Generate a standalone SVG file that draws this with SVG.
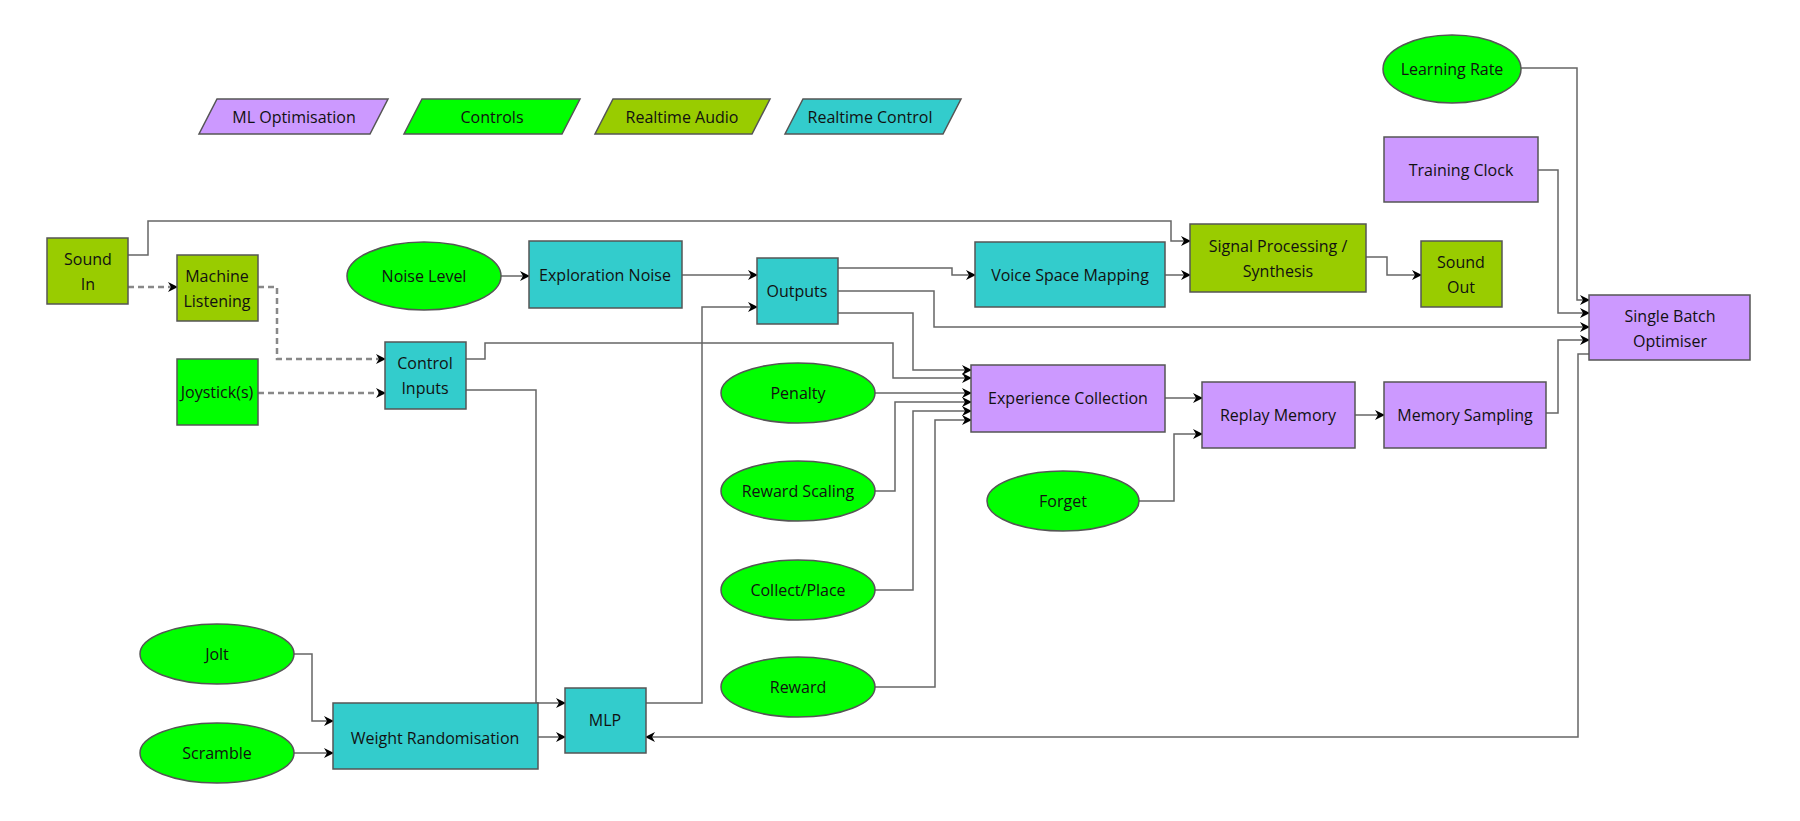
<svg xmlns="http://www.w3.org/2000/svg" width="1800" height="821" viewBox="0 0 1800 821">
<style>
text{font-family:"Open Sans","Noto Sans",sans-serif;font-size:16px;fill:#111;text-anchor:middle;dominant-baseline:central}
.p{fill:#cc99ff;stroke:#555;stroke-width:1.5}
.g{fill:#00ff00;stroke:#555;stroke-width:1.5}
.o{fill:#99cc00;stroke:#555;stroke-width:1.5}
.t{fill:#33cccc;stroke:#555;stroke-width:1.5}
.c{fill:none;stroke:#666;stroke-width:1.5;marker-end:url(#a)}
.d{stroke-dasharray:6,4;stroke:#888;stroke-width:2.5}
</style>
<defs><marker id="a" markerWidth="10" markerHeight="10" refX="9" refY="5" orient="auto" markerUnits="userSpaceOnUse"><path d="M0,0 L10,5 L0,10 L3,5 Z" fill="#000"/></marker></defs>
<rect width="1800" height="821" fill="#fff"/>
<g id="legend">
<g id="lg-ml"><polygon class="p" points="217,99 388,99 370,134 199,134"/><text x="294" y="117">ML Optimisation</text></g>
<g id="lg-ctrl"><polygon class="g" points="422,99 580,99 562,134 404,134"/><text x="492" y="117">Controls</text></g>
<g id="lg-audio"><polygon class="o" points="613,99 770,99 752,134 595,134"/><text x="682" y="117">Realtime Audio</text></g>
<g id="lg-rc"><polygon class="t" points="803,99 961,99 943,134 785,134"/><text x="870" y="117">Realtime Control</text></g>
</g>
<g id="connectors">
<path class="c" d="M128,255 H148 V221 H1171 V241 H1190"/>
<path class="c d" d="M128,287 H177"/>
<path class="c d" d="M258,287 H277 V359 H385"/>
<path class="c d" d="M258,393 H385"/>
<path class="c" d="M501,276 H529"/>
<path class="c" d="M682,275 H757"/>
<path class="c" d="M838,268 H952 V275 H975"/>
<path class="c" d="M1165,275 H1190"/>
<path class="c" d="M1366,257 H1387 V275 H1421"/>
<path class="c" d="M838,291 H934 V327 H1589"/>
<path class="c" d="M838,313 H913 V370 H971"/>
<path class="c" d="M465,359 H485 V343 H893 V378 H971"/>
<path class="c" d="M875,393 H971"/>
<path class="c" d="M875,491 H895 V402 H971"/>
<path class="c" d="M875,590 H913 V411 H971"/>
<path class="c" d="M875,687 H935 V420 H971"/>
<path class="c" d="M1165,398 H1202"/>
<path class="c" d="M1139,501 H1174 V434 H1202"/>
<path class="c" d="M1355,415 H1384"/>
<path class="c" d="M1546,413 H1558 V340 H1589"/>
<path class="c" d="M1521,68 H1577 V300 H1589"/>
<path class="c" d="M1538,170 H1558 V313 H1589"/>
<path class="c" d="M1589,354 H1578 V737 H646"/>
<path class="c" d="M466,390 H536 V703 H565"/>
<path class="c" d="M646,703 H702 V307 H757"/>
<path class="c" d="M538,737 H565"/>
<path class="c" d="M294,654 H312 V721 H333"/>
<path class="c" d="M294,753 H333"/>
</g>
<g id="sound-in"><rect class="o" x="47" y="238" width="81" height="66"/><text x="88" y="259">Sound</text><text x="88" y="284">In</text></g>
<g id="machine-listening"><rect class="o" x="177" y="255" width="81" height="66"/><text x="217" y="276">Machine</text><text x="217" y="301">Listening</text></g>
<g id="joystick"><rect class="g" x="177" y="359" width="81" height="66"/><text x="217" y="392">Joystick(s)</text></g>
<g id="control-inputs"><rect class="t" x="385" y="342" width="81" height="67"/><text x="425" y="363">Control</text><text x="425" y="388">Inputs</text></g>
<g id="noise-level"><ellipse class="g" cx="424" cy="276" rx="77" ry="34"/><text x="424" y="276">Noise Level</text></g>
<g id="exploration-noise"><rect class="t" x="529" y="241" width="153" height="67"/><text x="605" y="275">Exploration Noise</text></g>
<g id="outputs"><rect class="t" x="757" y="258" width="81" height="66"/><text x="797" y="291">Outputs</text></g>
<g id="voice-space"><rect class="t" x="975" y="242" width="190" height="65"/><text x="1070" y="275">Voice Space Mapping</text></g>
<g id="signal-processing"><rect class="o" x="1190" y="224" width="176" height="68"/><text x="1278" y="246">Signal Processing /</text><text x="1278" y="271">Synthesis</text></g>
<g id="sound-out"><rect class="o" x="1421" y="241" width="81" height="66"/><text x="1461" y="262">Sound</text><text x="1461" y="287">Out</text></g>
<g id="learning-rate"><ellipse class="g" cx="1452" cy="69" rx="69" ry="34"/><text x="1452" y="69">Learning Rate</text></g>
<g id="training-clock"><rect class="p" x="1384" y="137" width="154" height="65"/><text x="1461" y="170">Training Clock</text></g>
<g id="sbo"><rect class="p" x="1589" y="295" width="161" height="65"/><text x="1670" y="316">Single Batch</text><text x="1670" y="341">Optimiser</text></g>
<g id="experience"><rect class="p" x="971" y="365" width="194" height="67"/><text x="1068" y="398">Experience Collection</text></g>
<g id="replay"><rect class="p" x="1202" y="382" width="153" height="66"/><text x="1278" y="415">Replay Memory</text></g>
<g id="sampling"><rect class="p" x="1384" y="382" width="162" height="66"/><text x="1465" y="415">Memory Sampling</text></g>
<g id="forget"><ellipse class="g" cx="1063" cy="501" rx="76" ry="30"/><text x="1063" y="501">Forget</text></g>
<g id="penalty"><ellipse class="g" cx="798" cy="393" rx="77" ry="30"/><text x="798" y="393">Penalty</text></g>
<g id="reward-scaling"><ellipse class="g" cx="798" cy="491" rx="77" ry="30"/><text x="798" y="491">Reward Scaling</text></g>
<g id="collect-place"><ellipse class="g" cx="798" cy="590" rx="77" ry="30"/><text x="798" y="590">Collect/Place</text></g>
<g id="reward"><ellipse class="g" cx="798" cy="687" rx="77" ry="30"/><text x="798" y="687">Reward</text></g>
<g id="jolt"><ellipse class="g" cx="217" cy="654" rx="77" ry="30"/><text x="217" y="654">Jolt</text></g>
<g id="scramble"><ellipse class="g" cx="217" cy="753" rx="77" ry="30"/><text x="217" y="753">Scramble</text></g>
<g id="weight-rand"><rect class="t" x="333" y="703" width="205" height="66"/><text x="435" y="738">Weight Randomisation</text></g>
<g id="mlp"><rect class="t" x="565" y="688" width="81" height="65"/><text x="605" y="720">MLP</text></g>
</svg>
